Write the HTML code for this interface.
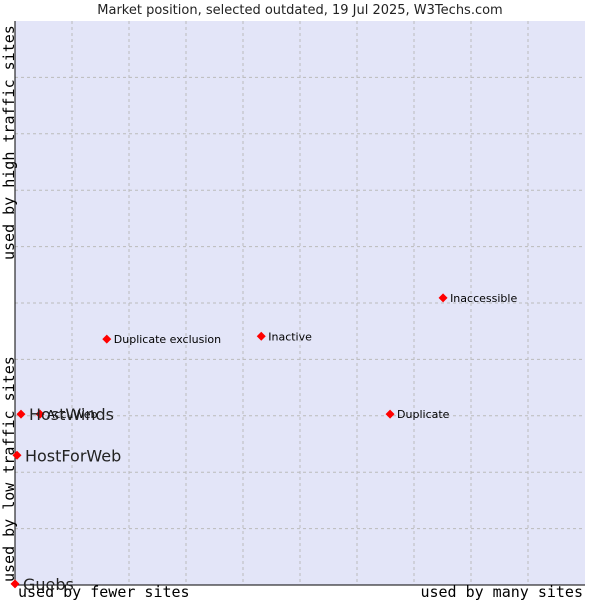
<!DOCTYPE html>
<html><head><meta charset="utf-8"><style>
body{margin:0;background:#fff;width:600px;height:600px;overflow:hidden}
svg text{font-family:"DejaVu Sans","Liberation Sans",sans-serif}
</style></head><body>
<svg width="600" height="600" id="c">
<rect x="15" y="21" width="570" height="564" fill="#e3e5f8"/>
<g id="grid"></g>
<line x1="15" y1="21" x2="15" y2="585" stroke="#000"/>
<line x1="15" y1="585" x2="585" y2="585" stroke="#000"/>
<text x="300" y="14" text-anchor="middle" font-size="13" fill="#222">Market position, selected outdated, 19 Jul 2025, W3Techs.com</text>
<text x="18" y="597" font-size="15" style="font-family:'DejaVu Sans Mono',monospace">used by fewer sites</text>
<text x="583" y="597" text-anchor="end" font-size="15" style="font-family:'DejaVu Sans Mono',monospace">used by many sites</text>
<text transform="translate(14,582) rotate(-90)" font-size="15" style="font-family:'DejaVu Sans Mono',monospace">used by low traffic sites</text>
<text transform="translate(14,260) rotate(-90)" font-size="15" style="font-family:'DejaVu Sans Mono',monospace">used by high traffic sites</text>
<g id="pts"></g>
</svg>
<script>
const names=["Duplicate exclusion","Inactive","Inaccessible","Duplicate","AccuWeb","HostWinds","HostForWeb","Guebs"];
const xVals=[16.1,43.2,75.1,65.8,4.4,1.05,0.35,0];
const yVals=[43.6,44.1,50.9,30.3,30.3,30.3,23.0,0.2];
const big=[false,false,false,false,false,true,true,true];
const NS="http://www.w3.org/2000/svg";
const X=v=>15+v*5.7, Y=v=>585-v*5.64;
const g=document.getElementById('grid'), p=document.getElementById('pts');
for(let i=1;i<10;i++){
 const a=document.createElementNS(NS,'line');
 
 
 a.setAttribute('x1',X(i*10));a.setAttribute('x2',X(i*10));a.setAttribute('y1',21);a.setAttribute('y2',585);
 a.setAttribute('stroke','#bbb');a.setAttribute('stroke-dasharray','3,3');g.appendChild(a);
 const b=document.createElementNS(NS,'line');
 
 
 b.setAttribute('y1',Y(i*10));b.setAttribute('y2',Y(i*10));b.setAttribute('x1',15);b.setAttribute('x2',585);
 b.setAttribute('stroke','#bbb');b.setAttribute('stroke-dasharray','3,3');g.appendChild(b);
}
names.forEach((n,i)=>{
 const x=X(xVals[i]),y=Y(yVals[i]);
 const d=document.createElementNS(NS,'polygon');
 
 
 d.setAttribute('points',`${x},${y-4.5} ${x+4.5},${y} ${x},${y+4.5} ${x-4.5},${y}`);
 d.setAttribute('fill','#f00');p.appendChild(d);
 const t=document.createElementNS(NS,'text');
 
 
 t.setAttribute('x',x+(big[i]?8:7));t.setAttribute('y',y+(big[i]?6:4));
 t.setAttribute('font-size',big[i]?16:11);t.setAttribute('fill',big[i]?'#222':'#000');
 t.textContent=n;p.appendChild(t);
});
</script>
</body></html>
